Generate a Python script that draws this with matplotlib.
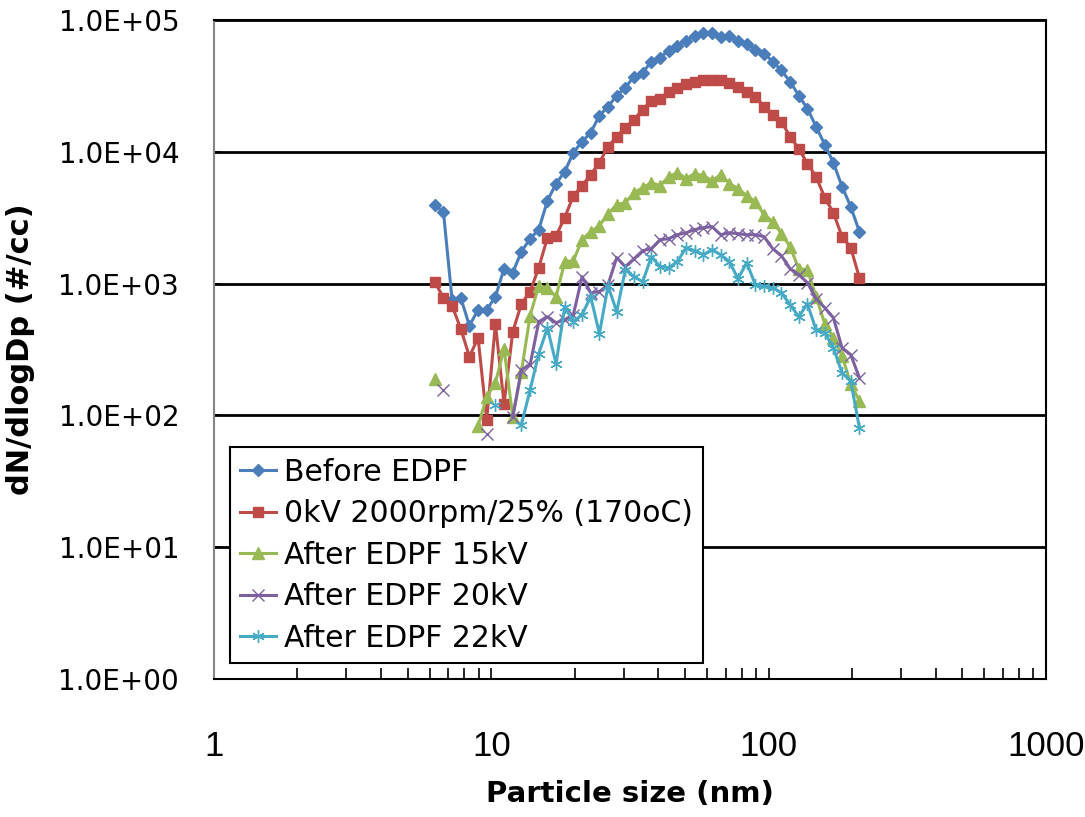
import numpy as np
import matplotlib
matplotlib.use("Agg")
import matplotlib.pyplot as plt
from matplotlib.ticker import LogLocator, NullFormatter, FixedLocator

nan = np.nan

# particle size channels (nm)
dp = [6.25, 6.72, 7.22, 7.76, 8.34, 8.96, 9.63, 10.35, 11.12, 11.95,
      12.84, 13.80, 14.83, 15.94, 17.12, 18.40, 19.77, 21.25, 22.83, 24.54,
      26.36, 28.33, 30.44, 32.71, 35.16, 37.78, 40.60, 43.63, 46.88, 50.38,
      54.14, 58.18, 62.52, 67.18, 72.19, 77.58, 83.37, 89.59, 96.27, 103.5,
      111.2, 119.5, 128.4, 138.0, 148.3, 159.4, 171.2, 184.0, 197.7, 212.5]

before = [3970, 3520, 755, 782, 479, 634, 634, 795, 1300, 1210,
          1750, 2190, 2570, 4260, 5740, 7080, 9860, 11950, 13990, 18830,
          22040, 26720, 30710, 37220, 39930, 48400, 51880, 58640, 63990, 69850,
          76240, 80380, 80380, 74960, 76240, 69850, 66330, 59700, 55670, 48400,
          41400, 34130, 26720, 21280, 15540, 11340, 8280, 5450, 3840, 2480]

kv0 = [1033, 782, 679, 455, 279, 388, 92.6, 496, 122, 431,
       703, 868, 1321, 2232, 2311, 3164, 4647, 5538, 6711, 8280,
       10940, 13040, 15270, 17570, 20910, 24470, 25350, 28660, 30710, 32940,
       34130, 35330, 35330, 35330, 33560, 31260, 28660, 26250, 22040, 19150,
       16950, 13040, 10570, 8135, 6480, 4488, 3452, 2270, 1875, 1109]

kv15 = [190, nan, nan, nan, nan, 83.4, 138, 177, 320, 97.6,
        214, 570, 964, 931, 795, 1466, 1493, 2153, 2478, 2752,
        3393, 3973, 4113, 4896, 5346, 5834, 5538, 6480, 6950, 6263,
        6828, 6592, 6040, 6711, 5737, 5260, 4647, 4188, 3336, 2951,
        2393, 1906, 1298, 1275, 795, 496, 388, 284, 174, 129]

kv20 = [nan, 156, nan, nan, nan, nan, 72.5, nan, nan, 97.6,
        222, 242, 514, 561, 505, 532, 581, 1128, 853, 868,
        981, 1574, 1344, 1545, 1778, 1841, 2153, 2193, 2350, 2432,
        2566, 2659, 2705, 2350, 2432, 2393, 2350, 2350, 2270, 1841,
        1629, 1298, 1169, 1016, 768, 656, 551, 326, 289, 193]

kv22 = [nan, nan, nan, nan, nan, nan, nan, 120, nan, nan,
        84.9, 156, 294, 462, 246, 668, 514, 581, 795, 417,
        964, 612, 1275, 1128, 1033, 1600, 1344, 1321, 1466, 1875,
        1778, 1657, 1808, 1657, 1466, 1089, 1441, 981, 953, 931,
        853, 692, 561, 703, 446, 424, 326, 210, 183, 80.5]

labels = ["Before EDPF", "0kV 2000rpm/25% (170oC)", "After EDPF 15kV",
          "After EDPF 20kV", "After EDPF 22kV"]
y_ticks = [1, 10, 100, 1000, 10000, 100000]
y_ticklabels = ["1.0E+00", "1.0E+01", "1.0E+02", "1.0E+03", "1.0E+04", "1.0E+05"]
x_ticks = [1, 10, 100, 1000]
x_ticklabels = ["1", "10", "100", "1000"]

plt.rcParams['font.family'] = ['DejaVu Sans']

fig = plt.figure(figsize=(10.85, 8.17), dpi=100)
ax = fig.add_axes([0.1972, 0.1689, 0.7668, 0.8066])

ax.plot(dp, before, color="#4A7EBB", lw=2.2, marker="D", ms=6.5, label=labels[0])
ax.plot(dp, kv0, color="#BE4B48", lw=2.2, marker="s", ms=7, label=labels[1])
ax.plot(dp, kv15, color="#98B954", lw=2.2, marker="^", ms=8, label=labels[2])
ax.plot(dp, kv20, color="#7D60A0", lw=2.2, marker="x", ms=8, mew=1.0, label=labels[3])
ax.plot(dp, kv22, color="#46AAC5", lw=2.2, marker=(6, 2, 0), ms=9, mew=1.0, label=labels[4])

ax.set_xscale("log")
ax.set_yscale("log")
ax.set_xlim(1, 1000)
ax.set_ylim(1, 100000)

for yv in y_ticks[1:]:
    ax.axhline(yv, color="black", lw=2, zorder=0.5)

ax.yaxis.set_major_locator(FixedLocator(y_ticks))
ax.set_yticklabels(y_ticklabels)
ax.yaxis.set_minor_locator(FixedLocator([]))
ax.xaxis.set_major_locator(FixedLocator(x_ticks))
ax.set_xticklabels(x_ticklabels)
ax.xaxis.set_minor_locator(LogLocator(base=10, subs=np.arange(2, 10)))
ax.xaxis.set_minor_formatter(NullFormatter())

ax.tick_params(axis="x", which="both", direction="in", length=8, width=1.2, pad=37,
               labelsize=25)
ax.tick_params(axis="y", which="major", direction="in", length=5, width=1.2, pad=25,
               labelsize=20)
for lab in ax.get_xticklabels():
    lab.set_family(["Liberation Sans", "DejaVu Sans"])

for s in ["top", "right", "bottom"]:
    ax.spines[s].set_color("black")
    ax.spines[s].set_linewidth(1.5)
ax.spines["left"].set_color("#868686")
ax.spines["left"].set_linewidth(1.5)

ax.set_xlabel("Particle size (nm)", fontsize=21, fontweight="bold")
ax.set_ylabel("dN/dlogDp (#/cc)", fontsize=22, fontweight="bold")
ax.xaxis.set_label_coords(0.5, -0.153)
ax.yaxis.set_label_coords(-0.215, 0.5)

leg = ax.legend(loc="lower left", bbox_to_anchor=(0.019, 0.024), borderaxespad=0,
                fontsize=21.5, fancybox=False, framealpha=1, edgecolor="black",
                handlelength=1.2, handletextpad=0.25, labelspacing=0.42,
                borderpad=0.35)
leg.get_frame().set_linewidth(1.5)

fig.savefig("out.png", dpi=100)
